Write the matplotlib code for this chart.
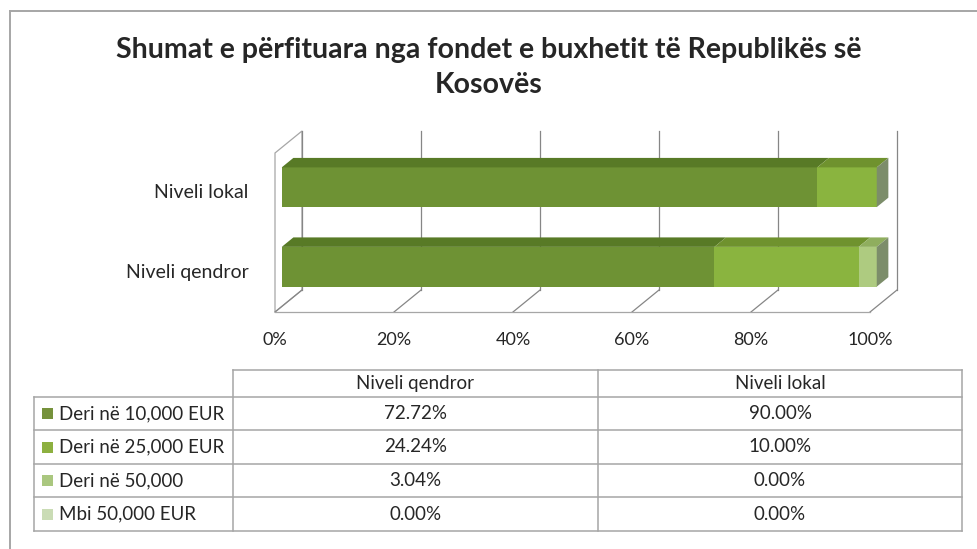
import numpy as np
import matplotlib.pyplot as plt
from matplotlib.patches import Polygon, Rectangle
from matplotlib.transforms import offset_copy

# -----------------------------
# Data
# -----------------------------

title = "Shumat e përfituara nga fondet e buxhetit të Republikës së\nKosovës"
categories = ["Niveli qendror", "Niveli lokal"]
series_names = ["Deri në 10,000 EUR", "Deri në 25,000 EUR", "Deri në 50,000", "Mbi 50,000 EUR"]
qendror = [72.72, 24.24, 3.04, 0.00]
lokal = [90.00, 10.00, 0.00, 0.00]
ticks = [0, 20, 40, 60, 80, 100]
tick_labels = ["0%", "20%", "40%", "60%", "80%", "100%"]

front_colors = ["#6e9234", "#8ab43f", "#aecb80", "#cadcb4"]
top_colors = ["#587a26", "#6f922e", "#8fae5e", "#a9c08c"]
legend_colors = ["#76923c", "#8db040", "#aac77f", "#cadcb5"]
side_color = "#7c8d6a"
grid_color = "#868686"
line_color = "#a6a6a6"

plt.rcParams["font.family"] = ["Lato", "DejaVu Sans"]

fig = plt.figure(figsize=(9.77, 5.49), dpi=100)

# background axes in pixel units for frame and table
bg = fig.add_axes([0, 0, 1, 1])
bg.set_xlim(0, 977)
bg.set_ylim(549, 0)
bg.axis("off")

# outer frame
bg.plot([10, 10], [11, 549], color=line_color, lw=1.4)
bg.plot([10, 977], [11, 11], color=line_color, lw=1.4)

# title, one text per line to control the spacing
for n, line in enumerate(title.split("\n")):
    bg.text(489, 50 + 35 * n, line, ha="center", va="center", fontsize=20.5,
            fontweight="bold", color="#262626")

# -----------------------------
# 3D-like stacked bar chart
# -----------------------------

ax = fig.add_axes([275 / 977, 1 - 312 / 549, 595 / 977, 159 / 549])
ax.set_xlim(0, 100)
ax.set_ylim(0, 2)
ax.axis("off")
ax.patch.set_alpha(0)

DX = 27 / 595 * 100   # wall depth in x units
DY = 22 / 159 * 2     # wall depth in y units

# side wall and floor
ax.add_patch(Polygon([(0, 0), (0, 2), (DX, 2 + DY), (DX, DY)], closed=True,
                     fill=False, edgecolor=line_color, lw=0.9, clip_on=False))
ax.plot([0, 100], [0, 0], color=line_color, lw=0.9, clip_on=False)
for t in ticks:
    ax.plot([t + DX, t + DX], [DY, 2 + DY], color=grid_color, lw=0.9, clip_on=False, zorder=1)
    ax.plot([t, t + DX], [0, DY], color=grid_color, lw=0.9, clip_on=False, zorder=1)

f0, f1 = 0.25, 0.68
h = 0.5
for i, values in enumerate([qendror, lokal]):
    yc = i + 0.5
    ox0, oy0 = f0 * DX, f0 * DY
    ox1, oy1 = f1 * DX, f1 * DY
    left = 0
    last_right = 0
    for j, v in enumerate(values):
        if v <= 0:
            continue
        right = left + v
        ax.add_patch(Rectangle((left + ox0, yc - h / 2 + oy0), v, h,
                               facecolor=front_colors[j], edgecolor="none",
                               clip_on=False, zorder=3))
        top0 = yc + h / 2 + oy0
        top1 = yc + h / 2 + oy1
        ax.add_patch(Polygon([(left + ox0, top0), (right + ox0, top0),
                              (right + ox1, top1), (left + ox1, top1)],
                             closed=True, facecolor=top_colors[j], edgecolor="none",
                             clip_on=False, zorder=3))
        left = right
        last_right = right
    ax.add_patch(Polygon([(last_right + ox0, yc - h / 2 + oy0),
                          (last_right + ox0, yc + h / 2 + oy0),
                          (last_right + ox1, yc + h / 2 + oy1),
                          (last_right + ox1, yc - h / 2 + oy1)],
                         closed=True, facecolor=side_color, edgecolor="none",
                         clip_on=False, zorder=3))

    ax.text(-4.4, yc, categories[i], ha="right", va="center",
            fontsize=14, color="#262626")

tick_trans = offset_copy(ax.transData, fig=fig, y=-28, units="dots")
for t, lab in zip(ticks, tick_labels):
    ax.text(t, 0, lab, transform=tick_trans, ha="center", va="center",
            fontsize=13, color="#262626")

# -----------------------------
# Data table
# -----------------------------

col_x = [34, 233, 598, 962]
row_y = [370, 397, 430, 464, 497, 531]
lw = 1.1

# header row
bg.plot([col_x[1], col_x[3]], [row_y[0], row_y[0]], color=line_color, lw=lw)
for x in col_x[1:]:
    bg.plot([x, x], [row_y[0], row_y[-1]], color=line_color, lw=lw)
bg.plot([col_x[0], col_x[0]], [row_y[1], row_y[-1]], color=line_color, lw=lw)
for y in row_y[1:]:
    bg.plot([col_x[0], col_x[3]], [y, y], color=line_color, lw=lw)

for k, cat in enumerate(categories):
    bg.text((col_x[k + 1] + col_x[k + 2]) / 2, (row_y[0] + row_y[1]) / 2, cat,
            ha="center", va="center", fontsize=13.5, color="#262626")

for j, name in enumerate(series_names):
    yc = (row_y[j + 1] + row_y[j + 2]) / 2
    bg.add_patch(Rectangle((42, yc - 5.5), 11, 11, facecolor=legend_colors[j],
                           edgecolor="none"))
    bg.text(59, yc, name, ha="left", va="center", fontsize=13.5, color="#262626")
    for k, values in enumerate([qendror, lokal]):
        bg.text((col_x[k + 1] + col_x[k + 2]) / 2, yc, f"{values[j]:.2f}%",
                ha="center", va="center", fontsize=13.5, color="#262626")

fig.savefig("out.png", dpi=100)
